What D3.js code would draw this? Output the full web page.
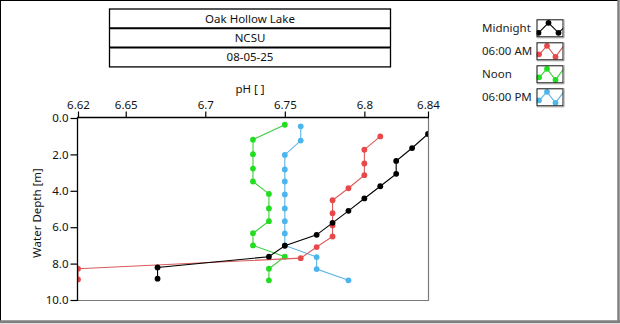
<!DOCTYPE html>
<html>
<head>
<meta charset="utf-8">
<script src="https://cdn.jsdelivr.net/npm/d3@7/dist/d3.min.js"></script>
<style>
  html, body { margin: 0; padding: 0; background: #fff; }
  svg { display: block; }
  text { font-family: "Noto Sans", "DejaVu Sans", sans-serif; }
</style>
</head>
<body>
<svg id="chart" width="620" height="324"></svg>
<script>
// Header lines
const titleLines = ["Oak Hollow Lake", "NCSU", "08-05-25"];

// Axis ticks
const phTicks = [6.62, 6.65, 6.7, 6.75, 6.8, 6.84];
const phTickLabels = ["6.62", "6.65", "6.7", "6.75", "6.8", "6.84"];
const depthTicks = [0, 2, 4, 6, 8, 10];
const depthTickLabels = ["0.0", "2.0", "4.0", "6.0", "8.0", "10.0"];

// Profiles: depth [m] and pH for each sampling time
const seriesNames = ["Midnight", "06:00 AM", "Noon", "06:00 PM"];
const midnightDepth = [0.88, 1.65, 2.36, 3.07, 3.75, 4.42, 5.10, 5.76, 6.42, 7.02, 7.62, 8.21, 8.83];
const midnightPH    = [6.84, 6.83, 6.82, 6.82, 6.81, 6.80, 6.79, 6.78, 6.77, 6.75, 6.74, 6.67, 6.67];
const amDepth = [1.01, 1.74, 2.50, 3.14, 3.86, 4.52, 5.23, 5.90, 6.51, 7.09, 7.70, 8.28, 8.87];
const amPH    = [6.81, 6.80, 6.80, 6.80, 6.79, 6.78, 6.78, 6.78, 6.78, 6.77, 6.76, 6.62, 6.62];
const noonDepth = [0.37, 1.19, 1.99, 2.78, 3.49, 4.17, 4.97, 5.67, 6.33, 7.00, 7.62, 8.28, 8.92];
const noonPH    = [6.75, 6.73, 6.73, 6.73, 6.73, 6.74, 6.74, 6.74, 6.73, 6.73, 6.75, 6.74, 6.74];
const pmDepth = [0.46, 1.24, 2.03, 2.83, 3.49, 4.20, 4.97, 5.67, 6.34, 7.00, 7.64, 8.30, 8.92];
const pmPH    = [6.76, 6.76, 6.75, 6.75, 6.75, 6.75, 6.75, 6.75, 6.75, 6.75, 6.77, 6.77, 6.79];

const colors = { "Midnight": "#000000", "06:00 AM": "#e8484a", "Noon": "#22dd22", "06:00 PM": "#4cb6ec" };
const lineColors = { "Midnight": "#000000", "06:00 AM": "#d85a5a", "Noon": "#3ccf3c", "06:00 PM": "#5ab4e4" };

const series = [
  { name: "Noon", depth: noonDepth, ph: noonPH },
  { name: "06:00 PM", depth: pmDepth, ph: pmPH },
  { name: "06:00 AM", depth: amDepth, ph: amPH },
  { name: "Midnight", depth: midnightDepth, ph: midnightPH }
];

const svg = d3.select("#chart");

// Panel frame: dark top/left, grey bottom/right
svg.append("rect").attr("x", 0).attr("y", 0).attr("width", 620).attr("height", 324).attr("fill", "#fff");
svg.append("line").attr("x1", 0).attr("y1", 0.5).attr("x2", 618).attr("y2", 0.5).attr("stroke", "#000");
svg.append("line").attr("x1", 0.5).attr("y1", 0).attr("x2", 0.5).attr("y2", 321).attr("stroke", "#000");
svg.append("line").attr("x1", 618.5).attr("y1", 0).attr("x2", 618.5).attr("y2", 322).attr("stroke", "#808080").attr("stroke-width", 2.5);
svg.append("line").attr("x1", 0).attr("y1", 321.8).attr("x2", 620).attr("y2", 321.8).attr("stroke", "#808080").attr("stroke-width", 3);

// Header table
const tb = { x: 109.5, y: 9, w: 281, rowH: 19.3 };
const tg = svg.append("g");
tg.append("rect").attr("x", tb.x).attr("y", tb.y).attr("width", tb.w).attr("height", tb.rowH * 3)
  .attr("fill", "#fff").attr("stroke", "#000").attr("stroke-width", 1.3);
[1, 2].forEach(i => {
  tg.append("line").attr("x1", tb.x).attr("x2", tb.x + tb.w)
    .attr("y1", tb.y + tb.rowH * i).attr("y2", tb.y + tb.rowH * i)
    .attr("stroke", "#000").attr("stroke-width", 2);
});
titleLines.forEach((t, i) => {
  tg.append("text").attr("x", tb.x + tb.w / 2).attr("y", tb.y + tb.rowH * i + tb.rowH / 2 + 4)
    .attr("text-anchor", "middle").attr("font-size", 11.5).attr("fill", "#111").text(t);
});

// Plot area
const plot = { left: 78, right: 428, top: 118, bottom: 300 };
const x = d3.scaleLinear().domain([6.62, 6.84]).range([plot.left, plot.right]);
const y = d3.scaleLinear().domain([0, 10]).range([plot.top, plot.bottom]);

svg.append("rect").attr("x", plot.left).attr("y", plot.top)
  .attr("width", plot.right - plot.left).attr("height", plot.bottom - plot.top).attr("fill", "#fff");

svg.append("defs").append("clipPath").attr("id", "plotClip")
  .append("rect").attr("x", plot.left).attr("y", plot.top)
  .attr("width", plot.right - plot.left).attr("height", plot.bottom - plot.top);

const line = d3.line().x(d => x(d[1])).y(d => y(d[0]));
const marks = svg.append("g").attr("clip-path", "url(#plotClip)");
series.forEach(s => {
  const pts = s.depth.map((d, i) => [d, s.ph[i]]);
  marks.append("path").datum(pts).attr("d", line).attr("fill", "none")
    .attr("stroke", lineColors[s.name]).attr("stroke-width", 1.1);
  marks.selectAll(null).data(pts).enter().append("circle")
    .attr("cx", d => x(d[1])).attr("cy", d => y(d[0])).attr("r", 2.9)
    .attr("fill", colors[s.name]);
});

// Right/bottom edges of the plot area
svg.append("line").attr("x1", plot.right + 0.5).attr("x2", plot.right + 0.5).attr("y1", plot.top).attr("y2", plot.bottom + 1)
  .attr("stroke", "#7a7a7a").attr("stroke-width", 1.2);
svg.append("line").attr("x1", plot.left).attr("x2", plot.right + 1).attr("y1", plot.bottom + 0.5).attr("y2", plot.bottom + 0.5)
  .attr("stroke", "#7a7a7a").attr("stroke-width", 1.2);

// Axes
const xAxis = d3.axisTop(x).tickValues(phTicks).tickSize(6).tickPadding(3)
  .tickFormat((d, i) => phTickLabels[i]);
const gx = svg.append("g").attr("transform", `translate(0,${plot.top - 0.5})`).call(xAxis);
const yAxis = d3.axisLeft(y).tickValues(depthTicks).tickSize(7).tickPadding(2)
  .tickFormat((d, i) => depthTickLabels[i]);
const gy = svg.append("g").attr("transform", `translate(${plot.left - 0.5},0)`).call(yAxis);
[gx, gy].forEach(g => {
  g.select(".domain").attr("stroke", "#000").attr("stroke-width", 1.3);
  g.selectAll(".tick line").attr("stroke", "#000").attr("stroke-width", 1.2);
  g.selectAll(".tick text").attr("font-size", 11.5).attr("fill", "#111")
    .attr("font-family", "'Noto Sans', 'DejaVu Sans', sans-serif");
});
gx.select(".domain").attr("d", `M${plot.left - 1},0H${plot.right + 1}`);
gy.select(".domain").attr("d", `M0,${plot.top - 1}V${plot.bottom + 1}`);

// Axis titles
svg.append("text").attr("x", 250).attr("y", 93).attr("text-anchor", "middle")
  .attr("font-size", 11.5).attr("fill", "#111").text("pH [ ]");
svg.append("text").attr("transform", "translate(41,213) rotate(-90)").attr("text-anchor", "middle")
  .attr("font-size", 11.5).attr("fill", "#111").text("Water Depth [m]");

// Legend
const legend = svg.append("g");
const legendNames = seriesNames;
legendNames.forEach((name, i) => {
  const ly = 19.3 + i * 23;
  legend.append("text").attr("x", 482).attr("y", ly + 13).attr("font-size", 11.5)
    .attr("fill", "#222").text(name);
  const bx = 536.5, bw = 27, bh = 18;
  const g = legend.append("g");
  const cid = "lgClip" + i;
  svg.select("defs").append("clipPath").attr("id", cid)
    .append("rect").attr("x", bx).attr("y", ly).attr("width", bw).attr("height", bh);
  g.append("rect").attr("x", bx).attr("y", ly).attr("width", bw).attr("height", bh).attr("fill", "#fff");
  const inner = g.append("g").attr("clip-path", `url(#${cid})`);
  let pts, dots;
  if (i === 0) {
    pts = [[2, 13.5], [12, 3.5], [22, 13.5], [32, 4]];
    dots = [pts[0], pts[1], pts[2]];
  } else {
    pts = [[0, 15], [10.5, 3.5], [19, 14.5], [28, 2.5]];
    dots = [[2.5, 12], pts[1], pts[2]];
  }
  inner.append("path").attr("d", d3.line()(pts.map(p => [bx + p[0], ly + p[1]])))
    .attr("fill", "none").attr("stroke", lineColors[name]).attr("stroke-width", 1.1);
  dots.forEach(p => {
    inner.append("circle").attr("cx", bx + p[0]).attr("cy", ly + p[1]).attr("r", 2.9).attr("fill", colors[name]);
  });
  g.append("rect").attr("x", bx + 0.5).attr("y", ly + 0.5).attr("width", bw - 1).attr("height", bh - 1)
    .attr("fill", "none").attr("stroke", "#111").attr("stroke-width", 1);
  g.append("path").attr("d", `M${bx + 0.5},${ly + bh + 0.5}H${bx + bw + 0.5}V${ly}`)
    .attr("fill", "none").attr("stroke", "#999").attr("stroke-width", 1);
});
</script>
</body>
</html>
